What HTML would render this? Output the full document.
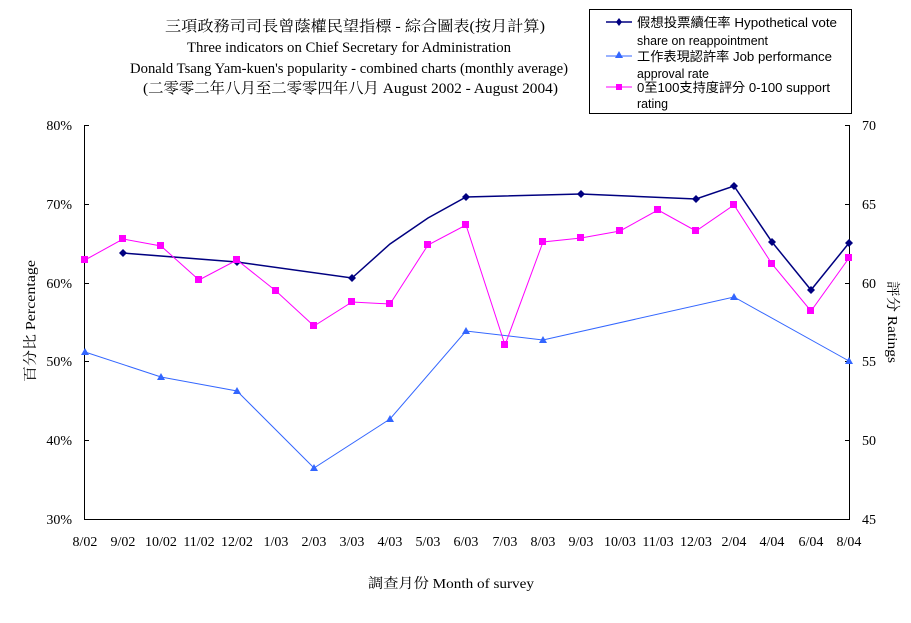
<!DOCTYPE html>
<html><head><meta charset="utf-8"><style>
body{margin:0;background:#fff;}
svg{display:block;}
text{font-family:"Liberation Serif","Noto Serif CJK SC","Noto Sans CJK TC",serif;font-size:14px;fill:#000;}
.t{font-size:15px;}
.s{font-family:"Liberation Sans","Noto Sans CJK TC",sans-serif;font-size:13px;}
</style></head><body>
<svg width="911" height="623" viewBox="0 0 911 623" xmlns="http://www.w3.org/2000/svg">
<rect width="911" height="623" fill="#fff"/>
<!-- titles -->
<text class="t" x="165" y="31" textLength="380" lengthAdjust="spacingAndGlyphs">三項政務司司長曾蔭權民望指標 - 綜合圖表(按月計算)</text>
<text class="t" x="187" y="52" textLength="324" lengthAdjust="spacingAndGlyphs">Three indicators on Chief Secretary for Administration</text>
<text class="t" x="130" y="73" textLength="438" lengthAdjust="spacingAndGlyphs">Donald Tsang Yam-kuen's popularity - combined charts (monthly average)</text>
<text class="t" x="143" y="93" textLength="415" lengthAdjust="spacingAndGlyphs">(二零零二年八月至二零零四年八月 August 2002 - August 2004)</text>
<!-- axes -->
<g stroke="#000" stroke-width="1" fill="none">
<line x1="84.5" y1="125" x2="84.5" y2="519"/>
<line x1="849.5" y1="125" x2="849.5" y2="519"/>
<line x1="84" y1="519.5" x2="850" y2="519.5"/>
<line x1="84" y1="125.5" x2="89" y2="125.5"/><line x1="84" y1="204.5" x2="89" y2="204.5"/>
<line x1="84" y1="283.5" x2="89" y2="283.5"/><line x1="84" y1="361.5" x2="89" y2="361.5"/>
<line x1="84" y1="440.5" x2="89" y2="440.5"/>
<line x1="845" y1="125.5" x2="850" y2="125.5"/><line x1="845" y1="204.5" x2="850" y2="204.5"/>
<line x1="845" y1="283.5" x2="850" y2="283.5"/><line x1="845" y1="361.5" x2="850" y2="361.5"/>
<line x1="845" y1="440.5" x2="850" y2="440.5"/>
</g>
<g text-anchor="end">
<text x="72" y="130">80%</text><text x="72" y="209">70%</text><text x="72" y="288">60%</text>
<text x="72" y="366">50%</text><text x="72" y="445">40%</text><text x="72" y="524">30%</text>
</g>
<g>
<text x="862" y="130">70</text><text x="862" y="209">65</text><text x="862" y="288">60</text>
<text x="862" y="366">55</text><text x="862" y="445">50</text><text x="862" y="524">45</text>
</g>
<g text-anchor="middle">
<text x="85" y="546">8/02</text><text x="123" y="546">9/02</text><text x="161" y="546">10/02</text>
<text x="199" y="546">11/02</text><text x="237" y="546">12/02</text><text x="276" y="546">1/03</text>
<text x="314" y="546">2/03</text><text x="352" y="546">3/03</text><text x="390" y="546">4/03</text>
<text x="428" y="546">5/03</text><text x="466" y="546">6/03</text><text x="505" y="546">7/03</text>
<text x="543" y="546">8/03</text><text x="581" y="546">9/03</text><text x="620" y="546">10/03</text>
<text x="658" y="546">11/03</text><text x="696" y="546">12/03</text><text x="734" y="546">2/04</text>
<text x="772" y="546">4/04</text><text x="811" y="546">6/04</text><text x="849" y="546">8/04</text>
</g>
<text x="368" y="588" textLength="166" lengthAdjust="spacingAndGlyphs">調查月份 Month of survey</text>
<text transform="translate(35,382) rotate(-90)" textLength="122" lengthAdjust="spacingAndGlyphs">百分比 Percentage</text>
<text transform="translate(888,281) rotate(90)" textLength="82" lengthAdjust="spacingAndGlyphs">評分 Ratings</text>
<!-- series -->
<polyline fill="none" stroke="#000080" stroke-width="1.5" points="123,253 237,262 352,278 390,244 428,218 466,197 581,194 696,199 734,186 772,242 811,290 849,243"/>
<g fill="#000080">
<path d="M123,249l4,4l-4,4l-4,-4z"/><path d="M237,258l4,4l-4,4l-4,-4z"/><path d="M352,274l4,4l-4,4l-4,-4z"/>
<path d="M466,193l4,4l-4,4l-4,-4z"/><path d="M581,190l4,4l-4,4l-4,-4z"/><path d="M696,195l4,4l-4,4l-4,-4z"/>
<path d="M734,182l4,4l-4,4l-4,-4z"/><path d="M772,238l4,4l-4,4l-4,-4z"/><path d="M811,286l4,4l-4,4l-4,-4z"/>
<path d="M849,239l4,4l-4,4l-4,-4z"/>
</g>
<polyline fill="none" stroke="#3366ff" stroke-width="1" points="85,352 161,377 237,391 314,468 390,419 466,331 543,340 734,297 849,361"/>
<g fill="#3366ff">
<path d="M85,348l4,7h-8z"/><path d="M161,373l4,7h-8z"/><path d="M237,387l4,7h-8z"/><path d="M314,464l4,7h-8z"/>
<path d="M390,415l4,7h-8z"/><path d="M466,327l4,7h-8z"/><path d="M543,336l4,7h-8z"/><path d="M734,293l4,7h-8z"/>
<path d="M849,357l4,7h-8z"/>
</g>
<polyline fill="none" stroke="#ff00ff" stroke-width="1" points="85,260 123,239 161,246 199,280 237,260 276,291 314,326 352,302 390,304 428,245 466,225 505,345 543,242 581,238 620,231 658,210 696,231 734,205 772,264 811,311 849,258"/>
<g fill="#ff00ff">
<rect x="81" y="256" width="7" height="7"/><rect x="119" y="235" width="7" height="7"/><rect x="157" y="242" width="7" height="7"/>
<rect x="195" y="276" width="7" height="7"/><rect x="233" y="256" width="7" height="7"/><rect x="272" y="287" width="7" height="7"/>
<rect x="310" y="322" width="7" height="7"/><rect x="348" y="298" width="7" height="7"/><rect x="386" y="300" width="7" height="7"/>
<rect x="424" y="241" width="7" height="7"/><rect x="462" y="221" width="7" height="7"/><rect x="501" y="341" width="7" height="7"/>
<rect x="539" y="238" width="7" height="7"/><rect x="577" y="234" width="7" height="7"/><rect x="616" y="227" width="7" height="7"/>
<rect x="654" y="206" width="7" height="7"/><rect x="692" y="227" width="7" height="7"/><rect x="730" y="201" width="7" height="7"/>
<rect x="768" y="260" width="7" height="7"/><rect x="807" y="307" width="7" height="7"/><rect x="845" y="254" width="7" height="7"/>
</g>
<!-- legend -->
<rect x="589.5" y="9.5" width="262" height="104" fill="#fff" stroke="#000"/>
<line x1="606" y1="22" x2="632" y2="22" stroke="#000080" stroke-width="1.5"/>
<path d="M619,18l3,4l-3,4l-3,-4z" fill="#000080"/>
<text class="s" x="637" y="27" textLength="200" lengthAdjust="spacingAndGlyphs">假想投票續任率 Hypothetical vote</text>
<text class="s" x="637" y="45" textLength="131" lengthAdjust="spacingAndGlyphs">share on reappointment</text>
<line x1="606" y1="56" x2="632" y2="56" stroke="#3366ff"/>
<path d="M619,51l4,7h-8z" fill="#3366ff"/>
<text class="s" x="637" y="61" textLength="195" lengthAdjust="spacingAndGlyphs">工作表現認許率 Job performance</text>
<text class="s" x="637" y="78" textLength="72" lengthAdjust="spacingAndGlyphs">approval rate</text>
<line x1="606" y1="87" x2="632" y2="87" stroke="#ff00ff"/>
<rect x="616" y="84" width="6" height="6" fill="#ff00ff"/>
<text class="s" x="637" y="92" textLength="193" lengthAdjust="spacingAndGlyphs">0至100支持度評分 0-100 support</text>
<text class="s" x="637" y="108" textLength="31" lengthAdjust="spacingAndGlyphs">rating</text>
</svg>
</body></html>
